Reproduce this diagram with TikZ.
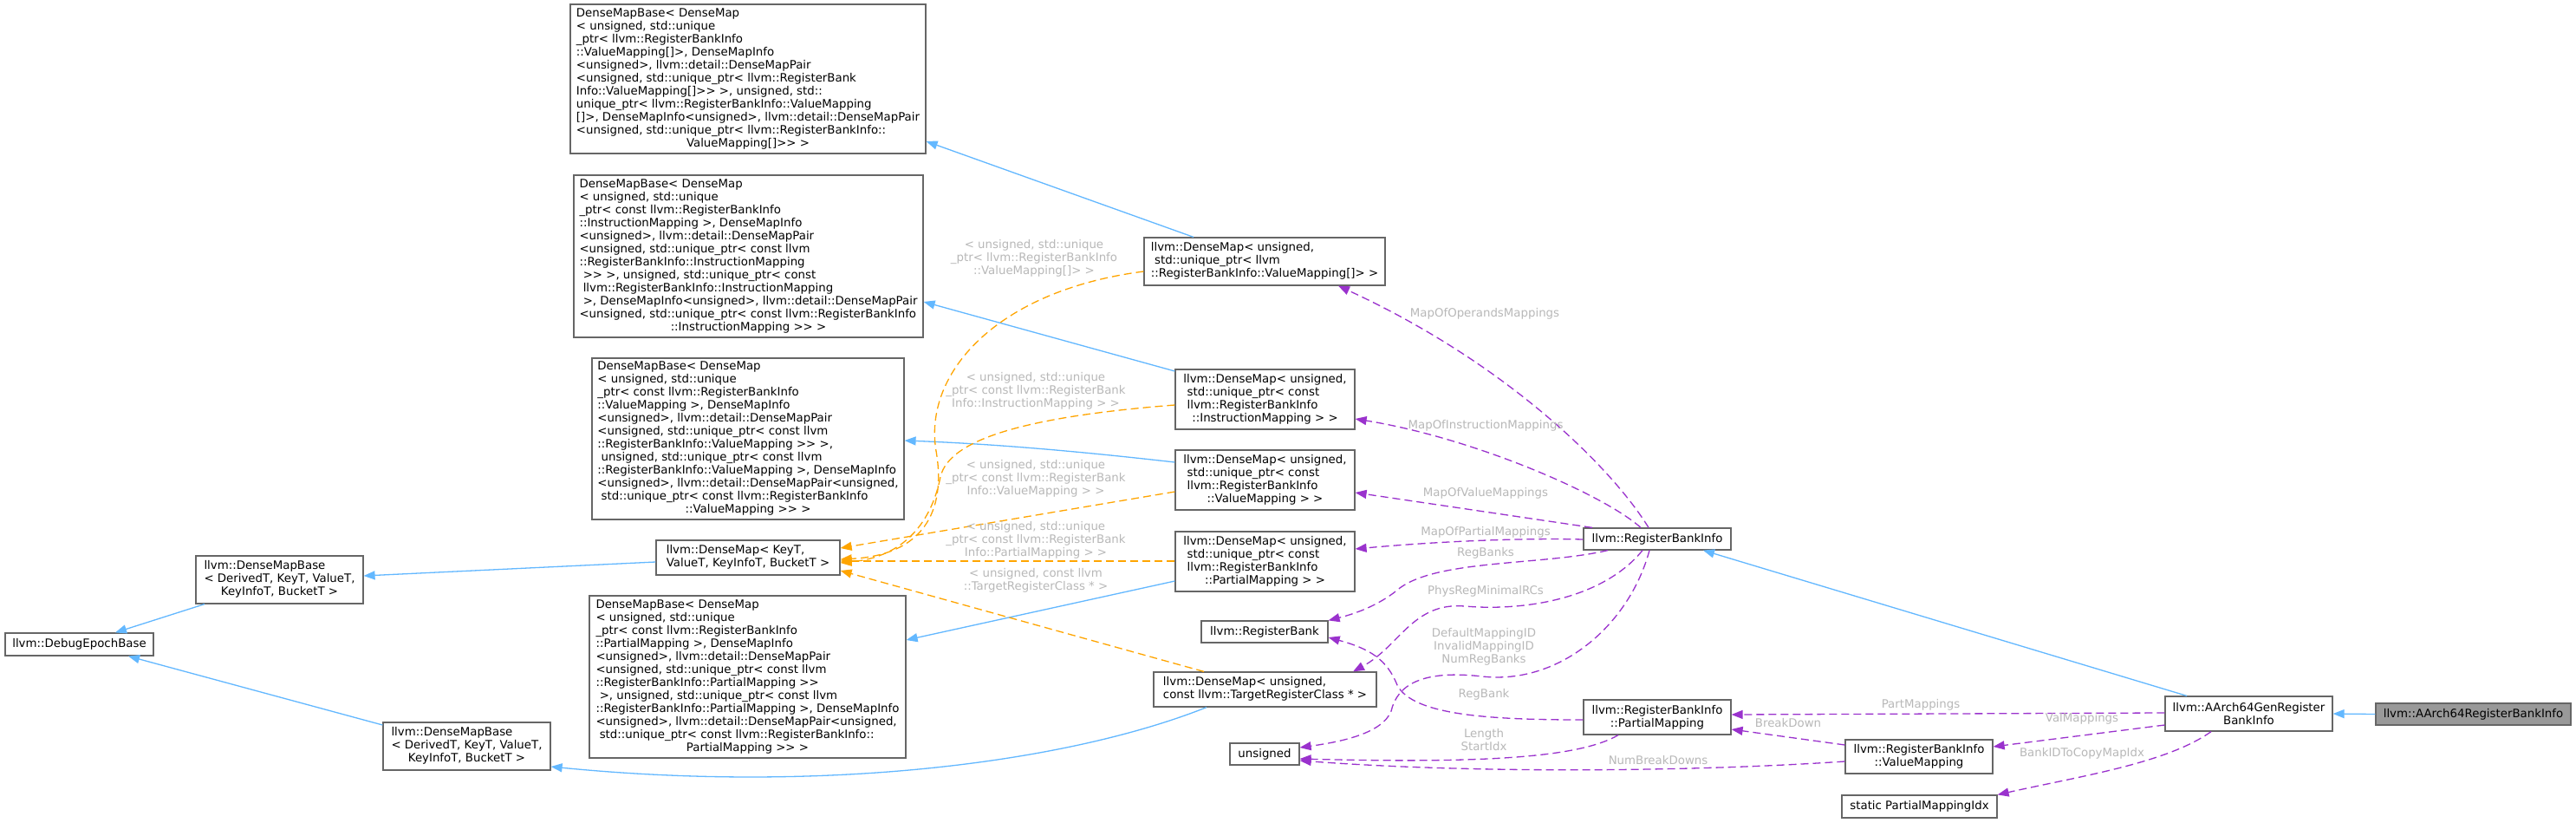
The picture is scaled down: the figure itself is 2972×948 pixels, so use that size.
\documentclass[tikz,border=0pt]{standalone}
\usepackage{fontspec}
\setmainfont{DejaVu Sans}[Ligatures=TeXOff]
\usetikzlibrary{arrows.meta}
\definecolor{inhblue}{HTML}{63B8FF}
\definecolor{tplorange}{HTML}{FFA500}
\definecolor{usepurple}{HTML}{9A32CD}
\definecolor{boxgray}{HTML}{666666}
\definecolor{lblgray}{HTML}{B8B8B8}
\definecolor{fillgray}{HTML}{999999}
\newcommand{\ml}[1]{\begin{tabular}{@{}l@{}}#1\end{tabular}}
\newcommand{\lc}[1]{\multicolumn{1}{@{}c@{}}{#1}}
\begin{document}
\begin{tikzpicture}[x=1pt,y=-1pt,
  box/.style={draw=boxgray, line width=1.2pt, fill=white, inner sep=0pt, text=black,
    font=\fontsize{13.33}{15}\selectfont},
  cbox/.style={box, align=center},
  edgeinh/.style={draw=inhblue, line width=1.3pt, -{Triangle[length=13pt,width=10pt]}},
  edgetpl/.style={draw=tplorange, line width=1.3pt, dash pattern=on 9pt off 5pt, -{Triangle[length=13pt,width=10pt]}},
  edgeuse/.style={draw=usepurple, line width=1.3pt, dash pattern=on 9pt off 5pt, -{Triangle[length=13pt,width=10pt]}},
  lbl/.style={text=lblgray, inner sep=0pt, align=center, font=\fontsize{13.33}{15}\selectfont}
]
\useasboundingbox[fill=white] (0,0) rectangle (2972,948);

% ---------- nodes ----------
\node[box, minimum width=410pt, minimum height=172pt] (bA) at (863,91) {\ml{DenseMapBase< DenseMap\\
< unsigned, std::unique\\
\_ptr< llvm::RegisterBankInfo\\
::ValueMapping[]>, DenseMapInfo\\
<unsigned>, llvm::detail::DenseMapPair\\
<unsigned, std::unique\_ptr< llvm::RegisterBank\\
Info::ValueMapping[]>> >, unsigned, std::\\
unique\_ptr< llvm::RegisterBankInfo::ValueMapping\\
{[]}>, DenseMapInfo<unsigned>, llvm::detail::DenseMapPair\\
<unsigned, std::unique\_ptr< llvm::RegisterBankInfo::\\
\lc{ValueMapping[]>> >}}};

\node[box, minimum width=403pt, minimum height=187pt] (bB) at (863.5,295.5) {\ml{DenseMapBase< DenseMap\\
< unsigned, std::unique\\
\_ptr< const llvm::RegisterBankInfo\\
::InstructionMapping >, DenseMapInfo\\
<unsigned>, llvm::detail::DenseMapPair\\
<unsigned, std::unique\_ptr< const llvm\\
::RegisterBankInfo::InstructionMapping\\
\ >> >, unsigned, std::unique\_ptr< const\\
\ llvm::RegisterBankInfo::InstructionMapping\\
\ >, DenseMapInfo<unsigned>, llvm::detail::DenseMapPair\\
<unsigned, std::unique\_ptr< const llvm::RegisterBankInfo\\
\lc{::InstructionMapping >> >}}};

\node[box, minimum width=360pt, minimum height=186pt] (bC) at (863,506) {\ml{DenseMapBase< DenseMap\\
< unsigned, std::unique\\
\_ptr< const llvm::RegisterBankInfo\\
::ValueMapping >, DenseMapInfo\\
<unsigned>, llvm::detail::DenseMapPair\\
<unsigned, std::unique\_ptr< const llvm\\
::RegisterBankInfo::ValueMapping >> >,\\
\ unsigned, std::unique\_ptr< const llvm\\
::RegisterBankInfo::ValueMapping >, DenseMapInfo\\
<unsigned>, llvm::detail::DenseMapPair<unsigned,\\
\ std::unique\_ptr< const llvm::RegisterBankInfo\\
\lc{::ValueMapping >> >}}};

\node[box, minimum width=365pt, minimum height=187pt] (bD) at (862.5,780.5) {\ml{DenseMapBase< DenseMap\\
< unsigned, std::unique\\
\_ptr< const llvm::RegisterBankInfo\\
::PartialMapping >, DenseMapInfo\\
<unsigned>, llvm::detail::DenseMapPair\\
<unsigned, std::unique\_ptr< const llvm\\
::RegisterBankInfo::PartialMapping >>\\
\ >, unsigned, std::unique\_ptr< const llvm\\
::RegisterBankInfo::PartialMapping >, DenseMapInfo\\
<unsigned>, llvm::detail::DenseMapPair<unsigned,\\
\ std::unique\_ptr< const llvm::RegisterBankInfo::\\
\lc{PartialMapping >> >}}};

\node[box, minimum width=212pt, minimum height=40pt] (keyt) at (863,643) {\ml{llvm::DenseMap< KeyT,\\\lc{ValueT, KeyInfoT, BucketT >}}};
\node[box, minimum width=193pt, minimum height=55pt] (udmb) at (322.5,668.5) {\ml{llvm::DenseMapBase\\< DerivedT, KeyT, ValueT,\\\lc{KeyInfoT, BucketT >}}};
\node[box, minimum width=193pt, minimum height=55pt] (ldmb) at (538.5,860.5) {\ml{llvm::DenseMapBase\\< DerivedT, KeyT, ValueT,\\\lc{KeyInfoT, BucketT >}}};
\node[box, minimum width=171pt, minimum height=26pt] (deb) at (91.5,743) {llvm::DebugEpochBase};

\node[box, minimum width=278pt, minimum height=55pt] (dmvma) at (1459,301.5) {\ml{llvm::DenseMap< unsigned,\\\ std::unique\_ptr< llvm\\\lc{::RegisterBankInfo::ValueMapping[]> >}}};
\node[box, minimum width=207pt, minimum height=69pt] (dmim) at (1459.5,460.5) {\ml{llvm::DenseMap< unsigned,\\\ std::unique\_ptr< const\\\ llvm::RegisterBankInfo\\\lc{::InstructionMapping > >}}};
\node[box, minimum width=207pt, minimum height=69pt] (dmvm) at (1459.5,553.5) {\ml{llvm::DenseMap< unsigned,\\\ std::unique\_ptr< const\\\ llvm::RegisterBankInfo\\\lc{::ValueMapping > >}}};
\node[box, minimum width=207pt, minimum height=69pt] (dmpm) at (1459.5,647.5) {\ml{llvm::DenseMap< unsigned,\\\ std::unique\_ptr< const\\\ llvm::RegisterBankInfo\\\lc{::PartialMapping > >}}};
\node[box, minimum width=146pt, minimum height=25pt] (rb) at (1459,728.5) {llvm::RegisterBank};
\node[box, minimum width=257pt, minimum height=40pt] (dmtrc) at (1459.5,795) {\ml{llvm::DenseMap< unsigned,\\\lc{const llvm::TargetRegisterClass * >}}};
\node[box, minimum width=80pt, minimum height=25pt] (uns) at (1459,869.5) {unsigned};

\node[box, minimum width=170pt, minimum height=25pt] (rbi) at (1912,621.5) {llvm::RegisterBankInfo};
\node[cbox, minimum width=170pt, minimum height=40pt] (rbipm) at (1912,827) {llvm::RegisterBankInfo\\::PartialMapping};
\node[cbox, minimum width=170pt, minimum height=39pt] (rbivm) at (2214,872.5) {llvm::RegisterBankInfo\\::ValueMapping};
\node[box, minimum width=179pt, minimum height=26pt] (spmi) at (2214.5,930) {static PartialMappingIdx};
\node[cbox, minimum width=193pt, minimum height=40pt] (a64g) at (2594.5,823) {llvm::AArch64GenRegister\\BankInfo};
\node[box, fill=fillgray, minimum width=225pt, minimum height=25pt] (a64r) at (2853.5,823.5) {llvm::AArch64RegisterBankInfo};

% ---------- inheritance edges ----------
\draw[edgeinh] (udmb.south -| 236,0) -- (deb.north -| 133,0);
\draw[edgeinh] (ldmb.west |- 0,836) -- (deb.south -| 148,0);
\draw[edgeinh] (keyt.west |- 0,648) -- (udmb.east |- 0,664);
\draw[edgeinh] (dmvma.north -| 1377,0) -- (bA.east |- 0,163);
\draw[edgeinh] (dmim.west |- 0,428) -- (bB.east |- 0,348);
\draw[edgeinh] (dmvm.west |- 0,533) .. controls (1250,521) and (1150,512) .. (bC.east |- 0,508);
\draw[edgeinh] (dmpm.west |- 0,670) -- (bD.east |- 0,738);
\draw[edgeinh] (dmtrc.south -| 1392,0) .. controls (1230,880) and (950,915) .. (ldmb.east |- 0,884);
\draw[edgeinh] (a64g.north -| 2523,0) -- (rbi.south -| 1965,0);
\draw[edgeinh] (a64r.west) -- (a64g.east);

% ---------- template edges ----------
\draw[edgetpl] (dmvma.west |- 0,313) .. controls (1150,335) and (1065,430) .. (1080,520) .. controls (1092,590) and (1065,640) .. (keyt.east |- 0,645);
\draw[edgetpl] (dmim.west |- 0,467) .. controls (1190,480) and (1095,505) .. (1085,550) .. controls (1075,600) and (1045,642) .. (keyt.east |- 0,649);
\draw[edgetpl] (dmvm.west |- 0,567) -- (keyt.east |- 0,632);
\draw[edgetpl] (dmpm.west |- 0,647) -- (keyt.east |- 0,647);
\draw[edgetpl] (dmtrc.north -| 1389,0) -- (keyt.east |- 0,658);

\node[lbl] (t1) at (1193,298) {< unsigned, std::unique\\\_ptr< llvm::RegisterBankInfo\\::ValueMapping[]> >};
\node[lbl] (t2) at (1195,451) {< unsigned, std::unique\\\_ptr< const llvm::RegisterBank\\Info::InstructionMapping > >};
\node[lbl] (t3) at (1195,552) {< unsigned, std::unique\\\_ptr< const llvm::RegisterBank\\Info::ValueMapping > >};
\node[lbl] (t4) at (1195,623) {< unsigned, std::unique\\\_ptr< const llvm::RegisterBank\\Info::PartialMapping > >};
\node[lbl] (t5) at (1195,669) {< unsigned, const llvm\\::TargetRegisterClass * >};

% ---------- usage edges ----------
\draw[edgeuse] (rbi.north -| 1902,0) .. controls (1860,540) and (1740,420) .. (dmvma.south -| 1544,0);
\draw[edgeuse] (rbi.north -| 1893,0) .. controls (1850,570) and (1700,505) .. (dmim.east |- 0,483);
\draw[edgeuse] (rbi.north -| 1837,0) -- (dmvm.east |- 0,568);
\draw[edgeuse] (rbi.west |- 0,622) .. controls (1750,620) and (1650,625) .. (dmpm.east |- 0,633);
\draw[edgeuse] (rbi.south -| 1855,0) .. controls (1780,652) and (1660,645) .. (1615,678) .. controls (1595,695) and (1570,706) .. (rb.north east);
\draw[edgeuse] (rbi.south -| 1895,0) .. controls (1850,690) and (1760,705) .. (1690,699) .. controls (1630,694) and (1615,745) .. (dmtrc.north -| 1561,0);
\draw[edgeuse] (rbi.south -| 1903,0) .. controls (1880,720) and (1800,790) .. (1710,780) .. controls (1640,772) and (1612,790) .. (1605,820) .. controls (1595,845) and (1550,855) .. (uns.east |- 0,862);
\draw[edgeuse] (rbipm.west |- 0,830) .. controls (1720,830) and (1630,825) .. (1612,790) .. controls (1600,760) and (1580,748) .. (rb.east |- 0,735);
\draw[edgeuse] (rbipm.south -| 1867,0) .. controls (1820,875) and (1700,880) .. (uns.east |- 0,875);
\draw[edgeuse] (rbivm.west |- 0,878) .. controls (1950,890) and (1700,892) .. (uns.east |- 0,877);
\draw[edgeuse] (a64g.west |- 0,822) -- (rbipm.east |- 0,824);
\draw[edgeuse] (a64g.west |- 0,836) -- (rbivm.east |- 0,861);
\draw[edgeuse] (a64g.south -| 2551,0) .. controls (2500,880) and (2400,895) .. (spmi.north east);
\draw[edgeuse] (rbivm.west |- 0,859) -- (rbipm.east |- 0,841);

\node[lbl] (t6) at (1713,362) {MapOfOperandsMappings};
\node[lbl] (t7) at (1714,491) {MapOfInstructionMappings};
\node[lbl] (t8) at (1714,569) {MapOfValueMappings};
\node[lbl] (t9) at (1714,614) {MapOfPartialMappings};
\node[lbl] (t10) at (1714,638) {RegBanks};
\node[lbl] (t11) at (1714,682) {PhysRegMinimalRCs};
\node[lbl] (t12) at (1712,746) {DefaultMappingID\\InvalidMappingID\\NumRegBanks};
\node[lbl] (t13) at (1712,801) {RegBank};
\node[lbl] (t14) at (1712,853) {Length\\StartIdx};
\node[lbl] (t15) at (1913,877) {NumBreakDowns};
\node[lbl] (t16) at (2216,813) {PartMappings};
\node[lbl] (t17) at (2402,829) {ValMappings};
\node[lbl] (t18) at (2063,834) {BreakDown};
\node[lbl] (t19) at (2402,869) {BankIDToCopyMapIdx};
\end{tikzpicture}
\end{document}
